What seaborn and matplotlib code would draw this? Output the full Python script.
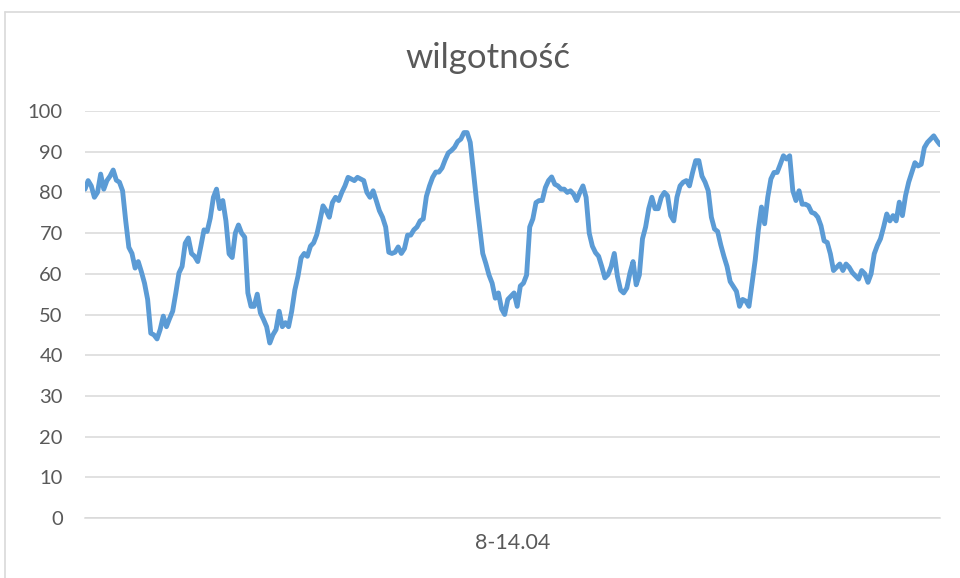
import numpy as np
import pandas as pd
import matplotlib
matplotlib.use("Agg")
import matplotlib.pyplot as plt
import seaborn as sns
from matplotlib.lines import Line2D

title = "wilgotność"
category_label = "8-14.04"
y_ticks = [0, 10, 20, 30, 40, 50, 60, 70, 80, 90, 100]

humidity = [
    80.8, 82.9, 81.6, 78.8, 80.0, 84.5, 80.8, 82.9, 84.0, 85.5, 83.0, 82.5, 80.4, 73.0, 66.5,
    65.0, 61.4, 63.0, 60.5, 57.7, 53.7, 45.4, 45.0, 44.0, 46.3, 49.6, 47.0, 49.0, 50.8, 55.3,
    60.2, 61.8, 67.5, 68.8, 65.0, 64.3, 63.0, 66.8, 70.8, 70.4, 73.7, 78.8, 80.8,
    76.0, 78.0, 73.0, 64.9, 64.0, 70.0, 72.0, 70.0, 69.0, 55.3, 52.0, 52.0, 55.0, 50.4, 48.8,
    47.0, 43.0, 45.0, 46.3, 50.8, 47.0, 48.0, 47.0, 50.8, 56.0, 59.4, 63.9, 65.0, 64.3, 66.8,
    67.6, 69.6, 73.0, 76.7, 75.5, 73.9, 77.5, 78.8, 78.0, 80.0, 81.6, 83.7, 83.3, 82.9, 83.7, 83.3,
    82.9, 80.0, 78.8, 80.4, 78.0, 75.5, 73.9, 71.5, 65.3, 65.0, 65.3, 66.6, 65.0, 66.2, 69.5,
    69.5, 70.8, 71.5, 73.0, 73.5, 79.0, 81.6, 83.7, 85.0, 85.0, 86.0, 88.0, 89.7, 90.3, 91.1,
    92.5, 93.1, 94.7, 94.7, 92.3, 85.3, 78.0, 71.5, 65.0, 62.5, 59.7, 57.7, 54.0, 55.3, 51.4,
    50.0, 53.7, 54.5, 55.3, 52.0, 57.0, 57.7, 59.7, 71.5, 73.5, 77.5, 78.0, 78.0, 81.2, 82.9,
    83.8, 82.0, 81.6, 80.8, 80.8, 80.0, 80.4, 79.6, 78.0, 80.0, 81.6, 78.8, 70.0, 66.8, 65.2,
    64.3, 61.8, 59.0, 59.8, 61.8, 65.0, 59.4, 56.0, 55.3, 56.5, 60.2, 63.0, 57.3, 59.7, 68.6,
    71.5, 76.0, 78.8, 76.0, 76.0, 78.8, 80.0, 79.2, 74.3, 73.0, 78.8, 81.6, 82.5, 82.9, 81.6,
    84.9, 87.8, 87.8, 84.0, 82.5, 80.4, 73.9, 71.0, 70.4, 67.1, 64.3, 61.8, 58.1, 56.9, 55.7,
    52.0, 53.7, 53.3, 52.0, 57.7, 63.4, 70.8, 76.4, 72.3, 78.8, 83.3, 84.9, 84.9,
    86.9, 89.0, 88.2, 89.0, 80.4, 78.0, 80.4, 77.1, 77.1, 76.7, 75.1, 74.8, 73.9, 71.8, 68.1,
    67.7, 64.9, 60.8, 61.6, 62.4, 60.8, 62.4, 61.6, 60.3, 59.5, 58.7, 60.8, 60.0, 57.9, 60.0,
    64.9, 67.0, 68.6, 71.5, 74.7, 73.0, 74.3, 73.0, 77.6, 74.3, 79.2, 82.5, 84.9, 87.3, 86.5,
    86.9, 91.0, 92.3, 93.1, 93.9, 92.7, 91.7,
]

df = pd.DataFrame({"sample": np.arange(len(humidity)), "humidity": humidity})

sns.set_theme(style="white")
plt.rcParams["font.family"] = ["Lato", "DejaVu Sans"]

W, H = 960, 578
fig = plt.figure(figsize=(W / 100, H / 100), dpi=100)
ax = fig.add_axes([85 / W, 1 - 518 / H, (940 - 85) / W, (518 - 111) / H])

sns.lineplot(data=df, x="sample", y="humidity", ax=ax, color="#5B9BD5",
             linewidth=3.5, solid_joinstyle="round", solid_capstyle="round")

ax.set_xlim(df["sample"].min(), df["sample"].max())
ax.set_ylim(0, 100)
ax.set_yticks(y_ticks)
ax.set_yticklabels([str(t) for t in y_ticks])
ax.set_xticks([(df["sample"].min() + df["sample"].max()) / 2])
ax.set_xticklabels([category_label])
ax.grid(axis="y", color="#D9D9D9", linewidth=1.1)
ax.set_axisbelow(True)
for s in ["top", "right", "left"]:
    ax.spines[s].set_visible(False)
ax.spines["bottom"].set_color("#D9D9D9")
ax.spines["bottom"].set_linewidth(1.1)
ax.tick_params(axis="y", length=0, pad=16, labelsize=14.5, labelcolor="#595959")
ax.tick_params(axis="x", length=0, pad=11, labelsize=15.5, labelcolor="#595959")
ax.set_xlabel("")
ax.set_ylabel("")

fig.text(488 / W, 1 - 58 / H, title, ha="center", va="center",
         fontsize=25, color="#595959")

# chart frame (top and left edges visible)
fig.add_artist(Line2D([5 / W, 1.0], [1 - 12 / H, 1 - 12 / H], transform=fig.transFigure,
                      color="#D9D9D9", linewidth=1.2))
fig.add_artist(Line2D([5 / W, 5 / W], [0.0, 1 - 12 / H], transform=fig.transFigure,
                      color="#D9D9D9", linewidth=1.2))

fig.savefig("out.png", dpi=100)
